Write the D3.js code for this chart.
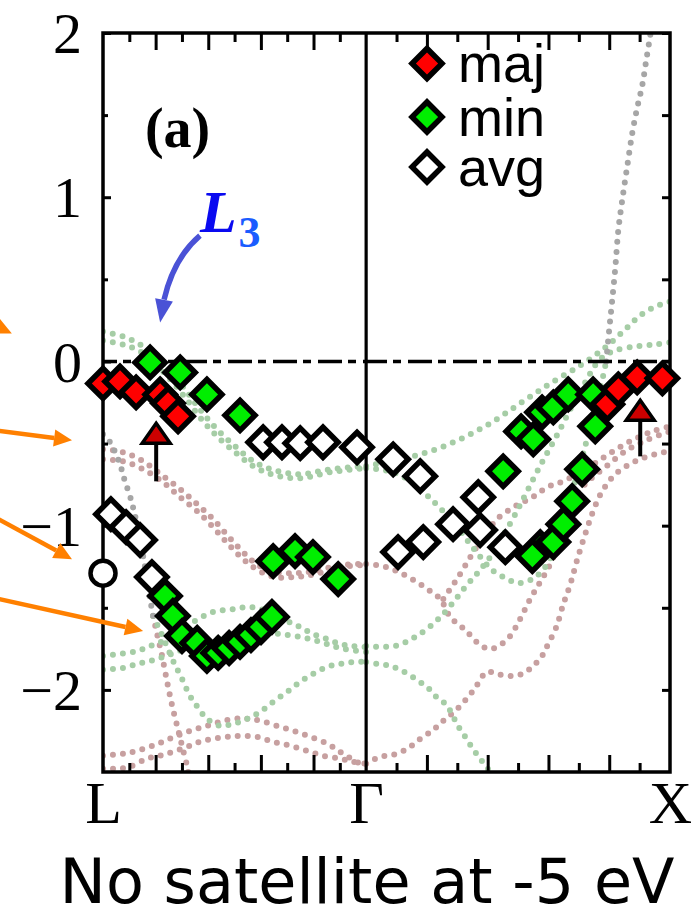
<!DOCTYPE html>
<html>
<head>
<meta charset="utf-8">
<script src="https://cdn.jsdelivr.net/npm/d3@7"></script>
<style>
  html, body { margin: 0; padding: 0; background: #fff; }
  svg { display: block; }
</style>
</head>
<body>
<svg id="chart" width="691" height="920"></svg>
<script>
// ---- k-path (units of 2π/a): L -> Γ -> X ----
const kPoints = [0, 0.866, 1.866];
const kLabels = ["L", "\u0393", "X"];
const yTickValues = [2, 1, 0, -1, -2];
const yTickLabels = ["2", "1", "0", "\u22121", "\u22122"];
const yHalfTicks = [1.5, 0.5, -0.5, -1.5];

// ---- reference bands (dotted), minority spin ----
const minLG1 = [[0,0.182],[0.066,0.152],[0.122,0.103],[0.171,0.030],[0.221,-0.061],[0.270,-0.170],[0.319,-0.292],[0.369,-0.401],[0.435,-0.517],[0.500,-0.614],[0.566,-0.663],[0.649,-0.687],[0.747,-0.657],[0.866,-0.638]];
const minLG2 = [[0,0.128],[0.066,0.103],[0.122,0.061],[0.171,-0.012],[0.221,-0.109],[0.270,-0.219],[0.319,-0.340],[0.369,-0.444],[0.435,-0.553],[0.500,-0.644],[0.566,-0.693],[0.649,-0.711],[0.747,-0.675],[0.866,-0.650]];
const minLG3 = [[0,-1.793],[0.056,-1.781],[0.112,-1.763],[0.155,-1.733],[0.198,-1.702],[0.247,-1.641],[0.296,-1.587],[0.362,-1.526],[0.428,-1.508],[0.484,-1.495],[0.540,-1.520],[0.606,-1.581],[0.649,-1.617],[0.691,-1.660],[0.738,-1.690],[0.780,-1.720],[0.823,-1.733],[0.866,-1.739]];
const minLG4 = [[0,-1.878],[0.066,-1.866],[0.112,-1.842],[0.155,-1.824],[0.198,-1.799],[0.244,-1.769],[0.303,-1.726],[0.369,-1.690],[0.451,-1.666],[0.524,-1.653],[0.583,-1.660],[0.649,-1.678],[0.715,-1.708],[0.780,-1.745],[0.866,-1.769]];
const minLG5 = [[0.165,-1.550],[0.188,-1.641],[0.211,-1.739],[0.234,-1.836],[0.260,-1.933],[0.286,-2.036],[0.313,-2.109],[0.342,-2.176],[0.385,-2.219],[0.428,-2.207],[0.474,-2.176],[0.517,-2.134],[0.560,-2.073],[0.606,-2.012],[0.649,-1.951],[0.691,-1.903],[0.738,-1.860],[0.780,-1.842],[0.823,-1.830],[0.866,-1.830]];
const minGX1 = [[0.866,-0.638],[0.978,-0.596],[1.077,-0.547],[1.175,-0.474],[1.274,-0.377],[1.373,-0.255],[1.472,-0.134],[1.571,-0.024],[1.653,0.085],[1.719,0.195],[1.768,0.280],[1.818,0.334],[1.866,0.365]];
const minGX2 = [[0.866,-0.650],[0.929,-0.663],[0.978,-0.693],[1.027,-0.748],[1.070,-0.821],[1.116,-0.906],[1.166,-1.009],[1.208,-1.112],[1.248,-1.204],[1.281,-1.271],[1.324,-1.319],[1.366,-1.350],[1.413,-1.325],[1.455,-1.252],[1.488,-1.131],[1.515,-0.973],[1.544,-0.790],[1.577,-0.584],[1.610,-0.353],[1.636,-0.170],[1.656,0]];
const minGX3 = [[0.866,-1.733],[0.961,-1.733],[1.027,-1.678],[1.093,-1.587],[1.143,-1.489],[1.192,-1.374],[1.235,-1.283],[1.274,-1.191],[1.314,-1.070],[1.357,-0.930],[1.399,-0.778],[1.445,-0.614],[1.492,-0.456],[1.538,-0.292],[1.587,-0.128],[1.630,0],[1.676,0.061],[1.752,0.091],[1.818,0.103],[1.866,0.116]];
const minGX4 = [[0.866,-1.830],[0.905,-1.842],[0.945,-1.854],[0.971,-1.872],[1.004,-1.903],[1.037,-1.945],[1.067,-1.982],[1.093,-2.036],[1.120,-2.073],[1.143,-2.128],[1.166,-2.213],[1.192,-2.286],[1.215,-2.353],[1.241,-2.419],[1.268,-2.486],[1.274,-2.530]];

// ---- reference bands (dotted), majority spin ----
const majLG1 = [[0,-0.535],[0.066,-0.553],[0.132,-0.608],[0.198,-0.699],[0.254,-0.778],[0.310,-0.869],[0.362,-0.960],[0.412,-1.064],[0.461,-1.161],[0.510,-1.240],[0.566,-1.283],[0.632,-1.289],[0.698,-1.277],[0.780,-1.240],[0.866,-1.234]];
const majLG2 = [[0,-0.596],[0.066,-0.608],[0.132,-0.657],[0.198,-0.736],[0.254,-0.827],[0.310,-0.912],[0.362,-1.009],[0.412,-1.112],[0.461,-1.204],[0.510,-1.271],[0.566,-1.313],[0.632,-1.313],[0.698,-1.295],[0.780,-1.252],[0.866,-1.240]];
const majLG3 = [[0.165,-1.550],[0.178,-1.660],[0.191,-1.763],[0.204,-1.884],[0.217,-2.006],[0.230,-2.116],[0.244,-2.219],[0.260,-2.340],[0.277,-2.468],[0.283,-2.530]];
const majLG4 = [[0,-2.401],[0.063,-2.389],[0.112,-2.371],[0.181,-2.328],[0.260,-2.267],[0.342,-2.219],[0.428,-2.176],[0.474,-2.176],[0.517,-2.188],[0.573,-2.219],[0.626,-2.249],[0.682,-2.286],[0.738,-2.328],[0.780,-2.377],[0.823,-2.426],[0.866,-2.468]];
const majLG5 = [[0,-2.480],[0.046,-2.480],[0.089,-2.468],[0.145,-2.419],[0.188,-2.401],[0.230,-2.377],[0.277,-2.347],[0.319,-2.316],[0.362,-2.298],[0.408,-2.286],[0.451,-2.280],[0.507,-2.286],[0.560,-2.316],[0.616,-2.340],[0.672,-2.371],[0.724,-2.401],[0.780,-2.419],[0.823,-2.438],[0.866,-2.450]];
const majGX1 = [[0.866,-1.234],[0.919,-1.246],[0.968,-1.277],[1.017,-1.325],[1.067,-1.386],[1.110,-1.447],[1.143,-1.556],[1.192,-1.635],[1.241,-1.726],[1.274,-1.751],[1.307,-1.726],[1.340,-1.672],[1.373,-1.568],[1.406,-1.447],[1.439,-1.343],[1.472,-1.234],[1.498,-1.112],[1.521,-0.960],[1.538,-0.869],[1.564,-0.796],[1.604,-0.717],[1.653,-0.644],[1.719,-0.547],[1.795,-0.474],[1.866,-0.426]];
const majGX2 = [[1.120,-1.447],[1.169,-1.313],[1.215,-1.173],[1.258,-1.052],[1.297,-0.960],[1.357,-0.881],[1.413,-0.827],[1.462,-0.766],[1.515,-0.729],[1.577,-0.669],[1.653,-0.578],[1.729,-0.492],[1.808,-0.426],[1.866,-0.395]];
const majGX3 = [[0.866,-2.450],[0.912,-2.407],[0.955,-2.395],[1.001,-2.359],[1.044,-2.298],[1.087,-2.243],[1.120,-2.188],[1.166,-2.116],[1.218,-2.006],[1.264,-1.891],[1.297,-1.903],[1.340,-1.915],[1.380,-1.903],[1.416,-1.854],[1.445,-1.793],[1.465,-1.720],[1.492,-1.617],[1.515,-1.477],[1.538,-1.356],[1.561,-1.204],[1.587,-1.052],[1.613,-0.912],[1.643,-0.790],[1.686,-0.687],[1.752,-0.608],[1.818,-0.565],[1.866,-0.547]];

// ---- spin-degenerate (s-like) stretches ----
const mixL = [[0,-0.444],[0.023,-0.492],[0.043,-0.565],[0.059,-0.644],[0.072,-0.729],[0.089,-0.821],[0.102,-0.912],[0.115,-1.021],[0.128,-1.143],[0.142,-1.295],[0.155,-1.447],[0.165,-1.550]];
const mixX = [[1.656,0],[1.666,0.195],[1.676,0.377],[1.686,0.571],[1.696,0.802],[1.709,0.985],[1.725,1.185],[1.742,1.392],[1.758,1.544],[1.775,1.684],[1.788,1.836],[1.801,1.988],[1.805,2.050]];

// ---- ARPES peak positions [k, E] ----
const majMarkers = [[0,-0.134],[0.056,-0.122],[0.109,-0.188],[0.188,-0.201],[0.214,-0.255],[0.247,-0.334],
                    [1.660,-0.261],[1.696,-0.170],[1.758,-0.097],[1.841,-0.103]];
const minMarkers = [[0.155,-0.006],[0.254,-0.067],[0.342,-0.201],[0.451,-0.328],
                    [0.204,-1.429],[0.230,-1.550],[0.260,-1.672],[0.310,-1.714],[0.342,-1.793],[0.379,-1.775],[0.415,-1.745],[0.451,-1.708],[0.487,-1.666],[0.520,-1.617],[0.556,-1.556],
                    [0.560,-1.216],[0.632,-1.155],[0.691,-1.191],[0.774,-1.325],
                    [1.317,-0.669],[1.376,-0.426],[1.416,-0.474],[1.439,-1.131],[1.413,-1.185],[1.482,-1.100],[1.515,-0.991],[1.544,-0.851],[1.577,-0.657],
                    [1.445,-0.310],[1.482,-0.280],[1.531,-0.201],[1.613,-0.201],[1.620,-0.395]];
const avgMarkers = [[0.026,-0.930],[0.076,-1.009],[0.122,-1.088],[0.161,-1.313],
                    [0.527,-0.492],[0.589,-0.492],[0.649,-0.498],[0.724,-0.492],[0.836,-0.523],
                    [0.955,-0.596],[1.044,-0.699],[0.971,-1.161],[1.054,-1.100],[1.152,-0.991],[1.235,-0.827],[1.241,-1.027],[1.324,-1.131]];
const openCircle = [[0,-1.289]];

// ---- annotations ----
const upArrows = [{k: 0.175, from: -0.730, to: -0.377}, {k: 1.768, from: -0.578, to: -0.237}];
const sideArrows = [
  {k0: -0.603, e0: 0.438, k1: -0.300, e1: 0.170},
  {k0: -0.356, e0: -0.419, k1: -0.102, e1: -0.480},
  {k0: -0.356, e0: -0.948, k1: -0.102, e1: -1.204},
  {k0: -0.356, e0: -1.441, k1: 0.132, e1: -1.641}
];
const l3Arrow = {start: [0.319, 0.766], ctrl: [0.233, 0.630], end: [0.201, 0.377], tip: [0.188, 0.237]};
const legendItems = [
  {label: "maj", fill: "#ff0000"},
  {label: "min", fill: "#00ee00"},
  {label: "avg", fill: "#ffffff"}
];

// ---- layout ----
const W = 691, H = 920;
const padL = 103, padR = 670, padT = 33, padB = 772;
const svg = d3.select("#chart");

const x = d3.scaleLinear().domain([kPoints[0], kPoints[2]]).range([padL, padR]);
const y = d3.scaleLinear().domain([-2.5, 2]).range([padB, padT]);

svg.append("defs").append("clipPath").attr("id", "plotArea")
  .append("rect").attr("x", padL).attr("y", padT).attr("width", padR - padL).attr("height", padB - padT);

const line = d3.line().x(d => x(d[0])).y(d => y(d[1])).curve(d3.curveCatmullRom.alpha(0.5));

// dotted bands
const bandLayer = svg.append("g").attr("clip-path", "url(#plotArea)");
function dotted(bands, color) {
  bandLayer.append("g").selectAll("path").data(bands).join("path")
    .attr("d", line)
    .attr("fill", "none")
    .attr("stroke", color)
    .attr("stroke-width", 6)
    .attr("stroke-linecap", "round")
    .attr("stroke-dasharray", "0 10");
}
dotted([majLG1, majLG2, majLG3, majLG4, majLG5, majGX1, majGX2, majGX3], "#c7a0a0");
dotted([minLG1, minLG2, minLG3, minLG4, minLG5, minGX1, minGX2, minGX3, minGX4], "#a6cda6");
dotted([mixL, mixX], "#a6a6a6");

// Fermi level
svg.append("line")
  .attr("x1", x(kPoints[0])).attr("x2", x(kPoints[2]))
  .attr("y1", y(0)).attr("y2", y(0))
  .attr("stroke", "#000").attr("stroke-width", 3.5)
  .attr("stroke-dasharray", "24 6 8 7").attr("stroke-dashoffset", 10);

// Γ separator
svg.append("line")
  .attr("x1", x(kPoints[1])).attr("x2", x(kPoints[1]))
  .attr("y1", padT).attr("y2", padB)
  .attr("stroke", "#000").attr("stroke-width", 3.2);

// k-axis inward ticks (tenths of each segment)
const segTicks = (a, b) => d3.range(1, 10).map(j => ({k: a + (b - a) * j / 10, major: j % 2 === 0}));
const kTicks = [...segTicks(kPoints[0], kPoints[1]), ...segTicks(kPoints[1], kPoints[2])];
const kMajor = kTicks.filter(t => t.major).map(t => t.k);
const kMinor = kTicks.filter(t => !t.major).map(t => t.k);

function styleTicks(g) {
  g.select(".domain").remove();
  g.selectAll(".tick line").attr("stroke", "#000").attr("stroke-width", 3);
}
svg.append("g").attr("transform", `translate(0,${padB})`)
  .call(d3.axisBottom(x).tickValues(kMajor).tickSize(-17).tickFormat("")).call(styleTicks);
svg.append("g").attr("transform", `translate(0,${padB})`)
  .call(d3.axisBottom(x).tickValues(kMinor).tickSize(-9).tickFormat("")).call(styleTicks);
svg.append("g").attr("transform", `translate(0,${padT})`)
  .call(d3.axisTop(x).tickValues(kMajor).tickSize(-17).tickFormat("")).call(styleTicks);
svg.append("g").attr("transform", `translate(0,${padT})`)
  .call(d3.axisTop(x).tickValues(kMinor).tickSize(-9).tickFormat("")).call(styleTicks);

// k-point labels
const kAxis = svg.append("g").attr("transform", `translate(0,${padB})`)
  .call(d3.axisBottom(x).tickValues(kPoints).tickSize(0).tickPadding(8).tickFormat((d, i) => kLabels[i]));
kAxis.select(".domain").remove();
kAxis.selectAll("text")
  .attr("font-family", "'Liberation Serif', 'Times New Roman', serif")
  .attr("font-size", 60).attr("fill", "#000");

// energy axis
const yAxis = svg.append("g").attr("transform", `translate(${padL},0)`)
  .call(d3.axisLeft(y).tickValues(yTickValues).tickSize(-8).tickPadding(21).tickFormat((d, i) => yTickLabels[i]));
yAxis.call(styleTicks);
yAxis.selectAll("text")
  .attr("font-family", "'Liberation Serif', 'Times New Roman', serif")
  .attr("font-size", 58).attr("fill", "#000").attr("dy", "0.34em");
svg.append("g").attr("transform", `translate(${padL},0)`)
  .call(d3.axisLeft(y).tickValues(yHalfTicks).tickSize(-5).tickFormat("")).call(styleTicks);
svg.append("g").attr("transform", `translate(${padR},0)`)
  .call(d3.axisRight(y).tickValues([...yTickValues, ...yHalfTicks]).tickSize(-8).tickFormat("")).call(styleTicks);

// frame
svg.append("rect")
  .attr("x", padL).attr("y", padT).attr("width", padR - padL).attr("height", padB - padT)
  .attr("fill", "none").attr("stroke", "#000").attr("stroke-width", 3.5);

// markers
const diamond = d3.symbol(d3.symbolSquare, 450);
function markers(data, fill) {
  svg.append("g").selectAll("path").data(data).join("path")
    .attr("d", diamond)
    .attr("transform", d => `translate(${x(d[0])},${y(d[1])}) rotate(45)`)
    .attr("fill", fill).attr("stroke", "#000").attr("stroke-width", 5.5);
}
markers(avgMarkers, "#ffffff");
markers(minMarkers, "#00ee00");
markers(majMarkers, "#ff0000");

svg.append("g").selectAll("circle").data(openCircle).join("circle")
  .attr("cx", d => x(d[0])).attr("cy", d => y(d[1])).attr("r", 12.5)
  .attr("fill", "#fff").attr("stroke", "#000").attr("stroke-width", 4.5);

// upward arrows with red heads
const ua = svg.append("g").selectAll("g").data(upArrows).join("g");
ua.append("line")
  .attr("x1", d => x(d.k)).attr("x2", d => x(d.k))
  .attr("y1", d => y(d.from)).attr("y2", d => y(d.to) + 19)
  .attr("stroke", "#000").attr("stroke-width", 4);
ua.append("path")
  .attr("d", d => {
    const cx = x(d.k), ty = y(d.to);
    return `M${cx},${ty}L${cx + 14},${ty + 20}L${cx - 14},${ty + 20}Z`;
  })
  .attr("fill", "#cc0000").attr("stroke", "#000").attr("stroke-width", 3.5).attr("stroke-linejoin", "miter");

// orange pointers
function arrowHead(x0, y0, x1, y1, len, half) {
  const dx = x1 - x0, dy = y1 - y0, n = Math.hypot(dx, dy);
  const ux = dx / n, uy = dy / n;
  const bx = x1 - ux * len, by = y1 - uy * len;
  return {bx, by, d: `M${x1},${y1}L${bx - uy * half},${by + ux * half}L${bx + uy * half},${by - ux * half}Z`};
}
sideArrows.forEach(a => {
  const x0 = x(a.k0), y0 = y(a.e0), x1 = x(a.k1), y1 = y(a.e1);
  const h = arrowHead(x0, y0, x1, y1, 18, 8.5);
  svg.append("line").attr("x1", x0).attr("y1", y0).attr("x2", h.bx).attr("y2", h.by)
    .attr("stroke", "#ff8000").attr("stroke-width", 4.5);
  svg.append("path").attr("d", h.d).attr("fill", "#ff8000");
});

// L3 pointer
{
  const s = l3Arrow.start, c = l3Arrow.ctrl, e = l3Arrow.end, t = l3Arrow.tip;
  const p = d3.path();
  p.moveTo(x(s[0]), y(s[1]));
  p.quadraticCurveTo(x(c[0]), y(c[1]), x(e[0]), y(e[1]));
  svg.append("path").attr("d", p.toString()).attr("fill", "none")
    .attr("stroke", "#4a52d6").attr("stroke-width", 5.5);
  const h = arrowHead(x(e[0]), y(e[1]), x(t[0]), y(t[1]), 23, 9);
  svg.append("path").attr("d", h.d).attr("fill", "#4a52d6");
}

// panel label and band label
svg.append("text").attr("x", x(0.138)).attr("y", y(1.307))
  .attr("font-family", "'Liberation Serif', 'Times New Roman', serif")
  .attr("font-weight", "bold").attr("font-size", 56).attr("fill", "#000")
  .text("(a)");
const l3 = svg.append("text").attr("x", x(0.319)).attr("y", y(0.790))
  .attr("font-family", "'Liberation Serif', 'Times New Roman', serif")
  .attr("font-weight", "bold");
l3.append("tspan").attr("font-style", "italic").attr("font-size", 60).attr("fill", "#0a0af0").text("L");
l3.append("tspan").attr("font-size", 44).attr("fill", "#1a5cff").attr("dy", 15).attr("dx", 2).text("3");

// legend
const lg = svg.append("g").selectAll("g").data(legendItems).join("g")
  .attr("transform", (d, i) => `translate(427,${[63.5, 117, 167][i]})`);
lg.append("path").attr("d", diamond).attr("transform", "rotate(45)")
  .attr("fill", d => d.fill).attr("stroke", "#000").attr("stroke-width", 5.5);
lg.append("text").attr("x", 31).attr("y", 18.5)
  .attr("font-family", "'Liberation Sans', Arial, sans-serif")
  .attr("font-size", 54).attr("fill", "#000")
  .text(d => d.label);

// caption
svg.append("text").attr("x", 367).attr("y", 903)
  .attr("text-anchor", "middle")
  .attr("font-family", "'Comic Sans MS', 'DejaVu Sans', sans-serif")
  .attr("font-size", 62).attr("fill", "#000")
  .attr("textLength", 615).attr("lengthAdjust", "spacingAndGlyphs")
  .text("No satellite at -5 eV");
</script>
</body>
</html>
